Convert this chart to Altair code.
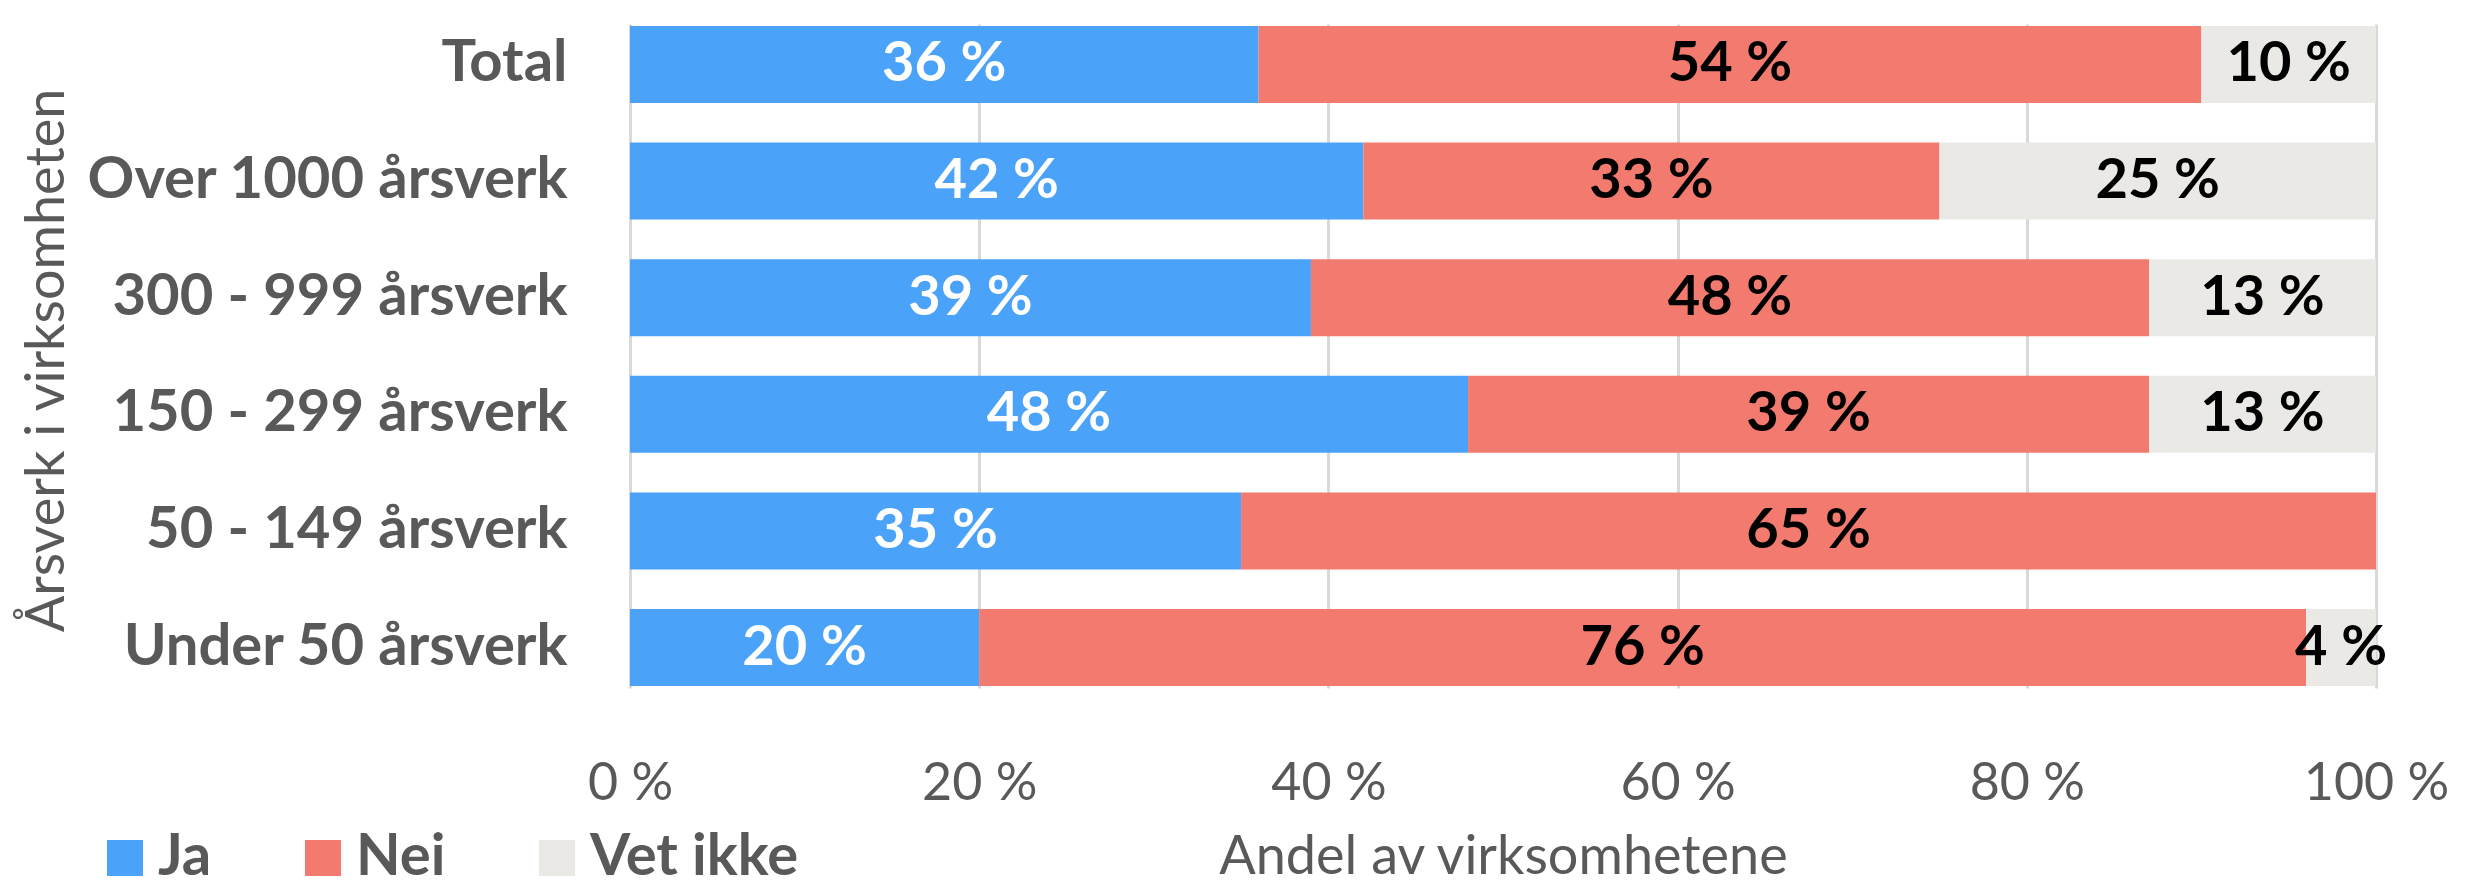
import altair as alt
import pandas as pd

categories = ["Total", "Over 1000 årsverk", "300 - 999 årsverk", "150 - 299 årsverk",
              "50 - 149 årsverk", "Under 50 årsverk"]
answers = ["Ja", "Nei", "Vet ikke"]
ja = [36, 42, 39, 48, 35, 20]
nei = [54, 33, 48, 39, 65, 76]
vet_ikke = [10, 25, 13, 13, 0, 4]
x_ticks = [0, 20, 40, 60, 80, 100]
colors = ["#4AA2F9", "#F27A6E", "#EAE9E5"]

rows = []
for i, c in enumerate(categories):
    for j, (a, vals) in enumerate(zip(answers, [ja, nei, vet_ikke])):
        rows.append({"category": c, "answer": a, "value": vals[i], "order": j})
df = pd.DataFrame(rows)

GREY = "#595959"
FONT = "Lato"

base = alt.Chart(df).transform_stack(
    stack="value", as_=["x0", "x1"], groupby=["category"], sort=[alt.SortField("order")]
).transform_calculate(
    mid="(datum.x0 + datum.x1) / 2",
    label="datum.value + ' %'",
)

y_enc = alt.Y(
    "category:N", sort=categories, title="Årsverk i virksomheten",
    scale=alt.Scale(paddingInner=0.34, paddingOuter=0.017),
    axis=alt.Axis(
        labelFont=FONT, labelFontSize=58, labelFontWeight="bold", labelColor=GREY,
        labelPadding=63, labelLimit=700, ticks=False, domain=False, grid=False,
        titleFont=FONT, titleFontSize=54, titleFontWeight="normal", titleColor=GREY,
        titleAngle=-90, titleX=-567, titleY=336, titleAlign="center",
        titleBaseline="alphabetic",
    ),
)

bars = base.mark_bar().encode(
    x=alt.X(
        "x0:Q", scale=alt.Scale(domain=[0, 100], nice=False),
        title="Andel av virksomhetene",
        axis=alt.Axis(
            values=x_ticks, labelExpr="datum.value + ' %'",
            labelFont=FONT, labelFontSize=52, labelColor=GREY, labelFlush=False,
            labelBaseline="alphabetic", labelPadding=111, tickSize=0, ticks=False,
            domain=False, grid=True, gridColor="#D9D9D9", gridWidth=3,
            titleFont=FONT, titleFontSize=54, titleFontWeight="normal", titleColor=GREY,
            titleBaseline="alphabetic", titleX=873, titleY=185,
        ),
    ),
    x2="x1:Q",
    y=y_enc,
    color=alt.Color(
        "answer:N", scale=alt.Scale(domain=answers, range=colors),
        legend=alt.Legend(
            title=None, orient="none", direction="horizontal",
            legendX=-534, legendY=805,
            labelFont=FONT, labelFontSize=58, labelFontWeight="bold", labelColor=GREY,
            labelLimit=500, labelOffset=4, columnPadding=82,
            symbolType="square", symbolSize=1296, symbolStrokeWidth=0, symbolOpacity=1,
        ),
    ),
    order=alt.Order("order:Q"),
)

text = base.transform_filter("datum.value > 0").mark_text(
    font=FONT, fontSize=56, fontWeight="bold", baseline="middle", align="center"
).encode(
    x=alt.X("mid:Q"),
    y=alt.Y("category:N", sort=categories),
    text="label:N",
    color=alt.condition(alt.datum.answer == "Ja", alt.value("white"), alt.value("black")),
)

chart = alt.layer(bars, text).properties(
    width=1746, height=664,
    autosize=alt.AutoSizeParams(type="none"),
    padding={"left": 622, "top": 16, "right": 80, "bottom": 200},
).configure_view(stroke=None)

chart.save("out.html", embed_options={"renderer": "svg", "actions": False})
